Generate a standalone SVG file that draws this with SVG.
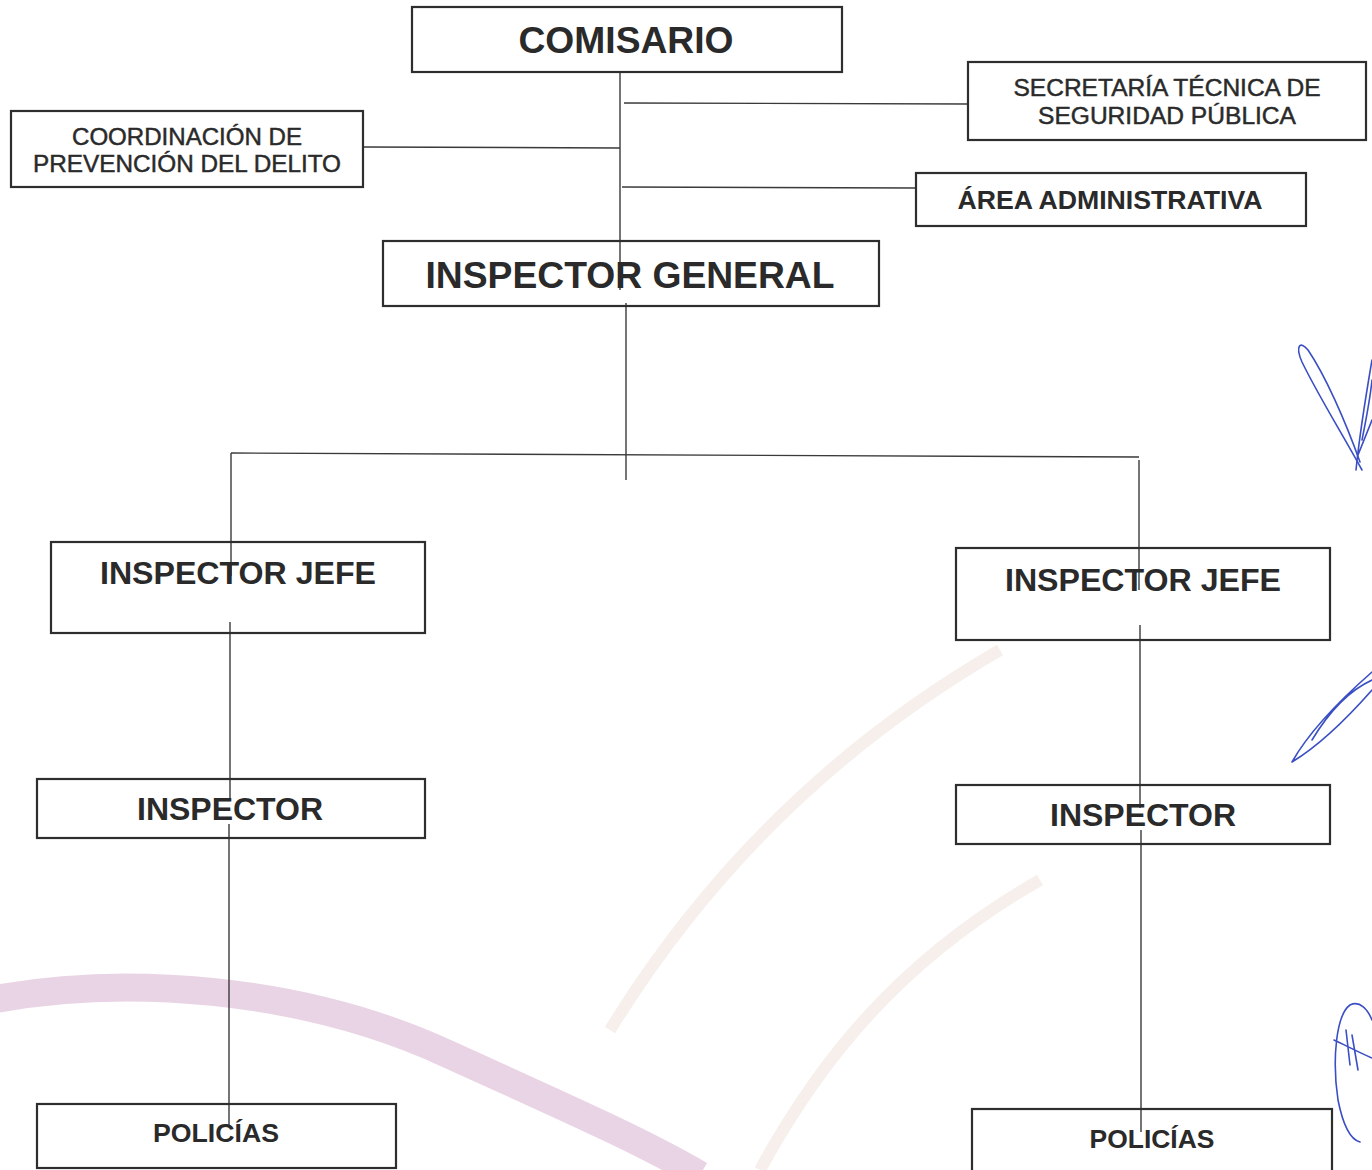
<svg xmlns="http://www.w3.org/2000/svg" width="1372" height="1170" viewBox="0 0 1372 1170">
<style>
.box{fill:none;stroke:#2e2e2e;stroke-width:2.2}
.con{fill:none;stroke:#3a3a3a;stroke-width:1.4}
.t{font-family:"Liberation Sans",Arial,sans-serif;fill:#2a2a2a;text-anchor:middle}
.b{font-weight:bold}
.s{font-size:23px;stroke:#2a2a2a;stroke-width:0.45}
.sig{fill:none;stroke:#3b4fc4;stroke-width:1.6;stroke-linecap:round}
</style>
<rect x="0" y="0" width="1372" height="1170" fill="#fff"/>
<g id="watermark">
<path d="M -10 1000 C 120 975 300 985 450 1055 C 560 1105 640 1140 700 1175" fill="none" stroke="#e3c9df" stroke-width="28" opacity="0.8"/>
<path d="M 610 1030 C 690 900 810 760 1000 650" fill="none" stroke="#f6efeb" stroke-width="12"/>
<path d="M 760 1170 C 820 1060 900 960 1040 880" fill="none" stroke="#f6efeb" stroke-width="12"/>
</g>
<g id="connectors">
<line class="con" x1="620" y1="72" x2="620" y2="290"/>
<line class="con" x1="624" y1="103" x2="968" y2="104"/>
<line class="con" x1="363" y1="147" x2="620" y2="148"/>
<line class="con" x1="622" y1="187" x2="916" y2="188"/>
<line class="con" x1="626" y1="303" x2="626" y2="480"/>
<line class="con" x1="231" y1="453" x2="1139" y2="457"/>
<line class="con" x1="231" y1="453" x2="231" y2="576"/>
<line class="con" x1="1139" y1="460" x2="1139" y2="590"/>
<line class="con" x1="230" y1="622" x2="230" y2="800"/>
<line class="con" x1="1140" y1="625" x2="1140" y2="808"/>
<line class="con" x1="229" y1="824" x2="229" y2="1126"/>
<line class="con" x1="1141" y1="830" x2="1141" y2="1132"/>
</g>
<g id="comisario">
<rect class="box" x="412" y="7" width="430" height="65"/>
<text class="t b" x="626" y="53" font-size="37" textLength="215" lengthAdjust="spacingAndGlyphs">COMISARIO</text>
</g>
<g id="secretaria">
<rect class="box" x="968" y="62" width="398" height="78"/>
<text class="t s" x="1167" y="96" textLength="307" lengthAdjust="spacingAndGlyphs">SECRETARÍA TÉCNICA DE</text>
<text class="t s" x="1167" y="124" textLength="258" lengthAdjust="spacingAndGlyphs">SEGURIDAD PÚBLICA</text>
</g>
<g id="coordinacion">
<rect class="box" x="11" y="111" width="352" height="76"/>
<text class="t s" x="187" y="145" textLength="230" lengthAdjust="spacingAndGlyphs">COORDINACIÓN DE</text>
<text class="t s" x="187" y="172" textLength="308" lengthAdjust="spacingAndGlyphs">PREVENCIÓN DEL DELITO</text>
</g>
<g id="area-administrativa">
<rect class="box" x="916" y="173" width="390" height="53"/>
<text class="t b" x="1110" y="209" font-size="25" textLength="305" lengthAdjust="spacingAndGlyphs">ÁREA ADMINISTRATIVA</text>
</g>
<g id="inspector-general">
<rect class="box" x="383" y="241" width="496" height="65"/>
<text class="t b" x="630" y="288" font-size="37" textLength="409" lengthAdjust="spacingAndGlyphs">INSPECTOR GENERAL</text>
</g>
<g id="inspector-jefe-izq">
<rect class="box" x="51" y="542" width="374" height="91"/>
<text class="t b" x="238" y="584" font-size="32" textLength="276" lengthAdjust="spacingAndGlyphs">INSPECTOR JEFE</text>
</g>
<g id="inspector-jefe-der">
<rect class="box" x="956" y="548" width="374" height="92"/>
<text class="t b" x="1143" y="591" font-size="32" textLength="276" lengthAdjust="spacingAndGlyphs">INSPECTOR JEFE</text>
</g>
<g id="inspector-izq">
<rect class="box" x="37" y="779" width="388" height="59"/>
<text class="t b" x="230" y="820" font-size="32" textLength="186" lengthAdjust="spacingAndGlyphs">INSPECTOR</text>
</g>
<g id="inspector-der">
<rect class="box" x="956" y="785" width="374" height="59"/>
<text class="t b" x="1143" y="826" font-size="32" textLength="186" lengthAdjust="spacingAndGlyphs">INSPECTOR</text>
</g>
<g id="policias-izq">
<rect class="box" x="37" y="1104" width="359" height="64"/>
<text class="t b" x="216" y="1142" font-size="26" textLength="126" lengthAdjust="spacingAndGlyphs">POLICÍAS</text>
</g>
<g id="policias-der">
<rect class="box" x="972" y="1109" width="360" height="64"/>
<text class="t b" x="1152" y="1148" font-size="26" textLength="125" lengthAdjust="spacingAndGlyphs">POLICÍAS</text>
</g>
<g id="signatures">
<path class="sig" d="M 1362 470 C 1340 430 1318 395 1302 362 C 1295 346 1300 340 1308 350 C 1325 375 1345 420 1360 462"/>
<path class="sig" d="M 1356 470 C 1360 430 1366 395 1372 360 M 1362 440 C 1366 420 1370 400 1372 380 M 1358 455 L 1372 420"/>
<path class="sig" d="M 1292 762 C 1310 730 1340 700 1372 672 M 1292 762 C 1320 745 1350 715 1372 690 M 1312 740 C 1330 710 1350 690 1372 680"/>
<path class="sig" d="M 1350 1005 C 1336 1015 1332 1060 1338 1100 C 1344 1130 1352 1140 1360 1142 M 1350 1005 C 1360 1000 1368 1010 1372 1020 M 1334 1040 C 1345 1045 1358 1052 1372 1058 M 1346 1030 L 1350 1065 M 1352 1035 L 1358 1070"/>
</g>
</svg>
